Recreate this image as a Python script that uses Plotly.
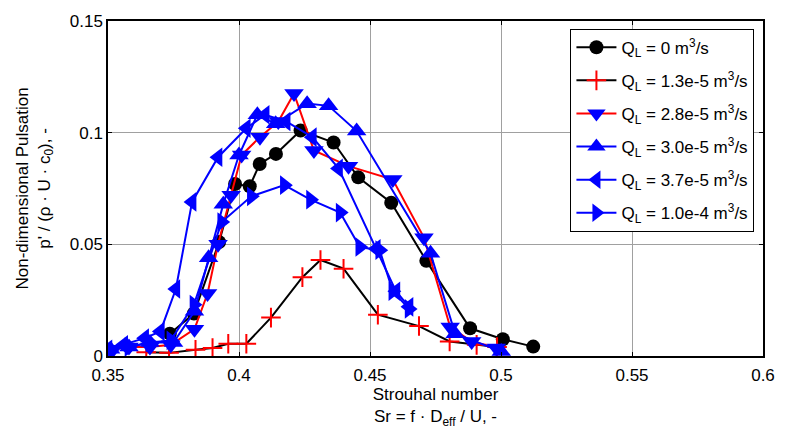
import plotly.graph_objects as go

# ---- data ----
x_q0 = [0.3736, 0.3828, 0.3924, 0.3985, 0.4041, 0.4079, 0.4141, 0.4235, 0.4361, 0.4455, 0.4581, 0.4715, 0.4882, 0.5007, 0.5123]
y_q0 = [0.010, 0.019, 0.051, 0.077, 0.076, 0.086, 0.0905, 0.101, 0.0956, 0.080, 0.0686, 0.0426, 0.0124, 0.0075, 0.0042]

x_q13 = [0.3646, 0.3733, 0.3834, 0.3899, 0.3959, 0.4028, 0.4122, 0.4242, 0.4311, 0.4399, 0.4530, 0.4687, 0.4804, 0.4907, 0.4985]
y_q13 = [0.0017, 0.0014, 0.0028, 0.0036, 0.0055, 0.0055, 0.0172, 0.0353, 0.0430, 0.0391, 0.0185, 0.0134, 0.0065, 0.0050, 0.0040]

x_q28 = [0.352, 0.358, 0.366, 0.374, 0.383, 0.388, 0.392, 0.397, 0.401, 0.408, 0.415, 0.421, 0.4286, 0.4418, 0.4587, 0.4706, 0.4806, 0.4888, 0.4982]
y_q28 = [0.003, 0.004, 0.004, 0.005, 0.012, 0.028, 0.050, 0.072, 0.090, 0.098, 0.105, 0.1175, 0.092, 0.085, 0.079, 0.053, 0.013, 0.0065, 0.0036]

x_q30 = [0.351, 0.358, 0.366, 0.375, 0.383, 0.3884, 0.394, 0.400, 0.407, 0.414, 0.426, 0.4342, 0.4449, 0.4731, 0.4825, 0.5001]
y_q30 = [0.003, 0.004, 0.006, 0.006, 0.020, 0.044, 0.068, 0.090, 0.108, 0.104, 0.113, 0.112, 0.1007, 0.046, 0.010, 0.002]

x_q37 = [0.350, 0.356, 0.364, 0.370, 0.3759, 0.3821, 0.392, 0.4028, 0.410, 0.418, 0.428, 0.438, 0.4524, 0.4599, 0.4649]
y_q37 = [0.003, 0.005, 0.008, 0.011, 0.030, 0.069, 0.089, 0.102, 0.108, 0.105, 0.098, 0.084, 0.048, 0.029, 0.022]

x_q100 = [0.350, 0.358, 0.366, 0.374, 0.3828, 0.3934, 0.4047, 0.4173, 0.4273, 0.4386, 0.4461, 0.4537, 0.4587, 0.4649]
y_q100 = [0.003, 0.004, 0.006, 0.007, 0.023, 0.060, 0.0715, 0.0765, 0.070, 0.0642, 0.0488, 0.0474, 0.029, 0.0211]

names = ["Q<sub>L</sub> = 0 m<sup>3</sup>/s",
         "Q<sub>L</sub> = 1.3e-5 m<sup>3</sup>/s",
         "Q<sub>L</sub> = 2.8e-5 m<sup>3</sup>/s",
         "Q<sub>L</sub> = 3.0e-5 m<sup>3</sup>/s",
         "Q<sub>L</sub> = 3.7e-5 m<sup>3</sup>/s",
         "Q<sub>L</sub> = 1.0e-4 m<sup>3</sup>/s"]

x_ticks = [0.35, 0.4, 0.45, 0.5, 0.55, 0.6]
x_ticktext = ["0.35", "0.4", "0.45", "0.5", "0.55", "0.6"]
y_ticks = [0, 0.05, 0.1, 0.15]
y_ticktext = ["0", "0.05", "0.1", "0.15"]

x_title = "Strouhal number<br>Sr = f · D<sub>eff</sub> / U, -"
y_title = "Non-dimensional Pulsation<br>p' / (ρ · U · c<sub>0</sub>), -"

BLUE = "#0000ff"
RED = "#ff0000"
FONT = "Liberation Sans, Arial"

fig = go.Figure()
fig.add_trace(go.Scatter(x=x_q0, y=y_q0, name=names[0], mode="lines+markers", legendgroup="a",
                         line=dict(color="black", width=2),
                         marker=dict(symbol="circle", size=14, color="black")))
fig.add_trace(go.Scatter(x=x_q13, y=y_q13, name=names[1], mode="lines+markers", legendgroup="b",
                         line=dict(color="black", width=2),
                         marker=dict(symbol="cross-thin-open", size=14, color=RED,
                                     line=dict(color=RED, width=2))))
fig.add_trace(go.Scatter(x=x_q28, y=y_q28, name=names[2], mode="lines+markers", legendgroup="c",
                         line=dict(color=RED, width=2),
                         marker=dict(symbol="triangle-down", size=17, color=BLUE)))
fig.add_trace(go.Scatter(x=x_q30, y=y_q30, name=names[3], mode="lines+markers", legendgroup="d",
                         line=dict(color=BLUE, width=2),
                         marker=dict(symbol="triangle-up", size=17, color=BLUE)))
fig.add_trace(go.Scatter(x=x_q37, y=y_q37, name=names[4], mode="lines+markers", legendgroup="e",
                         line=dict(color=BLUE, width=2),
                         marker=dict(symbol="triangle-left", size=17, color=BLUE)))
fig.add_trace(go.Scatter(x=x_q100, y=y_q100, name=names[5], mode="lines+markers", legendgroup="f",
                         line=dict(color=BLUE, width=2),
                         marker=dict(symbol="triangle-right", size=17, color=BLUE)))

axis_common = dict(showline=True, linecolor="black", linewidth=1.5, mirror="ticks",
                   ticks="inside", ticklen=4, tickcolor="black",
                   showgrid=True, gridcolor="#a0a0a0", gridwidth=1,
                   zeroline=False,
                   tickfont=dict(family=FONT, size=17, color="black"))

fig.update_xaxes(range=[0.35, 0.6], tickvals=x_ticks, ticktext=x_ticktext,
                 ticklabelstandoff=3,
                 title=dict(text=x_title, font=dict(family=FONT, size=17, color="black"),
                            standoff=0),
                 **axis_common)
fig.update_yaxes(range=[0, 0.15], tickvals=y_ticks, ticktext=y_ticktext,
                 **axis_common)

fig.add_annotation(text=y_title, textangle=-90, xref="paper", yref="paper",
                   x=(33 - 108) / 664, y=0.5, xanchor="center", yanchor="middle",
                   showarrow=False, font=dict(family=FONT, size=17, color="black"))

fig.update_layout(
    width=787, height=434,
    margin=dict(l=108, r=15, t=14, b=78),
    paper_bgcolor="white", plot_bgcolor="white",
    font=dict(family=FONT, size=17, color="black"),
    legend=dict(x=0.706, y=0.977, xanchor="left", yanchor="top",
                bgcolor="white", bordercolor="black", borderwidth=1,
                font=dict(family=FONT, size=17), itemwidth=40, tracegroupgap=8),
    showlegend=True,
)

fig.write_html("out.html")
